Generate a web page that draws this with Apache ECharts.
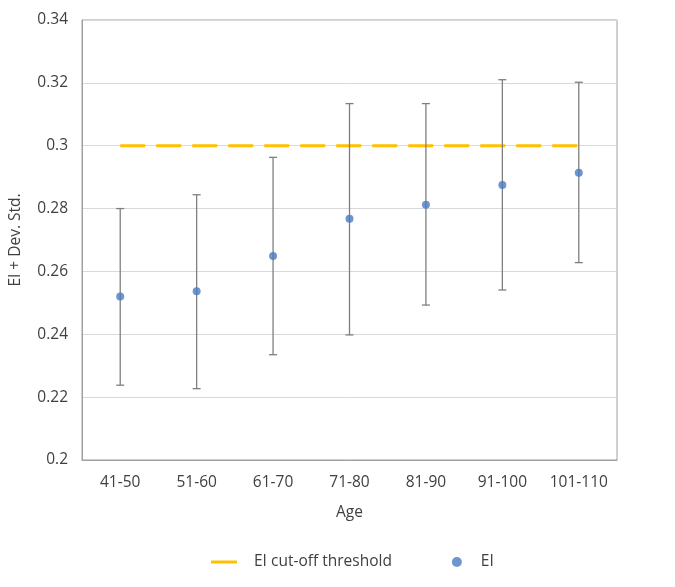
<!DOCTYPE html>
<html><head><meta charset="utf-8">
<script src="https://cdn.jsdelivr.net/npm/echarts@6/dist/echarts.min.js"></script>
<style>html,body{margin:0;padding:0;background:#fff}#c{width:675px;height:587px}</style>
</head><body><div id="c"></div>
<script>
const categories = ['41-50','51-60','61-70','71-80','81-90','91-100','101-110'];
const eiValues = [0.252, 0.2537, 0.2649, 0.2768, 0.2812, 0.2875, 0.2914];
const errLow = [0.2238, 0.2227, 0.2335, 0.2398, 0.2493, 0.2541, 0.2628];
const errHigh = [0.280, 0.2844, 0.2963, 0.3134, 0.3134, 0.3210, 0.3202];
const threshold = [0.3, 0.3, 0.3, 0.3, 0.3, 0.3, 0.3];
const yTicks = [0.2, 0.22, 0.24, 0.26, 0.28, 0.3, 0.32, 0.34];

const errData = categories.map((c, i) => [i, errLow[i], errHigh[i]]);
const font = '"Open Sans", "Liberation Sans", sans-serif';
const fs = 15.5;
const chart = echarts.init(document.getElementById('c'));
chart.setOption({
  animation: false,
  textStyle: {fontFamily: font},
  grid: {left: 82, top: 20, right: 58, bottom: 127, show: true, borderColor: '#a0a0a0', borderWidth: 1},
  legend: {
    bottom: 12, left: 206, itemGap: 60, itemWidth: 26, itemHeight: 10,
    textStyle: {fontFamily: font, fontSize: fs, color: '#404040'},
    data: [
      {name: 'EI cut-off threshold', icon: 'path://M0,4 L26,4 L26,7 L0,7 Z', textStyle: {padding: [0, 0, 0, 12]}},
      {name: 'EI', icon: 'circle', textStyle: {padding: [0, 0, 0, 6]}}
    ]
  },
  xAxis: {
    type: 'category', data: categories, boundaryGap: true,
    name: 'Age', nameLocation: 'middle', nameGap: 45,
    nameTextStyle: {fontSize: fs, color: '#404040'},
    axisLine: {lineStyle: {color: '#a0a0a0'}},
    axisTick: {show: false},
    axisLabel: {fontSize: fs, color: '#404040', margin: 15}
  },
  yAxis: {
    type: 'value', min: 0.2, max: 0.34, interval: 0.02,
    name: 'EI + Dev. Std.', nameLocation: 'middle', nameGap: 58,
    nameTextStyle: {fontSize: fs, color: '#404040'},
    axisLine: {show: true, lineStyle: {color: '#a0a0a0'}},
    axisTick: {show: false},
    axisLabel: {fontSize: fs, color: '#404040', margin: 14,
      formatter: v => { const t = yTicks.find(x => Math.abs(x - v) < 1e-9); return t === undefined ? '' : String(+t.toFixed(2)); }},
    splitLine: {lineStyle: {color: '#d9d9d9'}}
  },
  series: [
    {
      name: 'EI cut-off threshold', type: 'line', data: threshold, symbol: 'none',
      lineStyle: {color: '#FFC000', width: 3, type: [25, 11]},
      itemStyle: {color: '#FFC000'}, z: 2
    },
    {
      name: 'errbar', type: 'custom', data: errData, z: 3,
      renderItem: function (params, api) {
        const x = api.value(0);
        const lo = api.coord([x, api.value(1)]);
        const hi = api.coord([x, api.value(2)]);
        const w = 4;
        const st = {stroke: '#7f7f7f', lineWidth: 1.3};
        return {type: 'group', children: [
          {type: 'line', shape: {x1: lo[0], y1: lo[1], x2: hi[0], y2: hi[1]}, style: st},
          {type: 'line', shape: {x1: lo[0]-w, y1: lo[1], x2: lo[0]+w, y2: lo[1]}, style: st},
          {type: 'line', shape: {x1: hi[0]-w, y1: hi[1], x2: hi[0]+w, y2: hi[1]}, style: st}
        ]};
      }
    },
    {
      name: 'EI', type: 'scatter', data: eiValues, symbol: 'circle', symbolSize: 8,
      itemStyle: {color: '#4A7BC0'}, z: 4
    }
  ]
});
</script></body></html>
